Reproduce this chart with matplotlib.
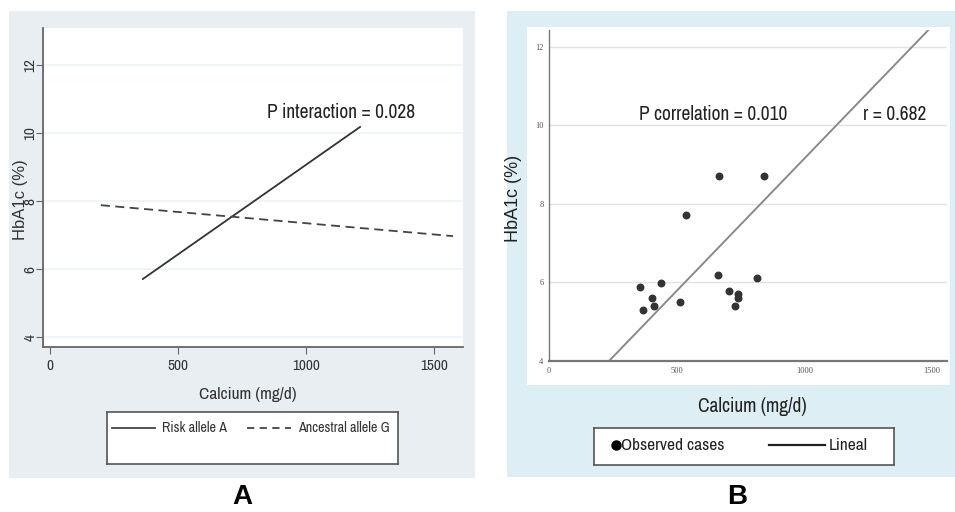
import numpy as np
import matplotlib
matplotlib.use("Agg")
import matplotlib.pyplot as plt
from matplotlib.lines import Line2D

W, H = 955, 512

# Panel A: fitted lines by allele
risk_x = [363, 1211]
risk_y = [5.71, 10.18]
anc_x = [199, 1574]
anc_y = [7.88, 6.97]
ticks_a_x = [0, 500, 1000, 1500]
ticks_a_y = [4, 6, 8, 10, 12]

# Panel B: observed cases and linear fit
obs_x = [666, 841, 538, 356, 369, 403, 411, 440, 514, 662, 706, 728, 740, 739, 814]
obs_y = [8.72, 8.72, 7.71, 5.89, 5.29, 5.60, 5.39, 5.99, 5.49, 6.19, 5.79, 5.39, 5.70, 5.60, 6.11]
fit_x = [235, 1488]
fit_y = [4.0, 12.45]
ticks_b_x = [0, 500, 1000, 1500]
ticks_b_y = [4, 6, 8, 10, 12]

NARROW = ["Archivo Narrow", "Liberation Sans", "DejaVu Sans"]
ARIAL = ["Liberation Sans", "DejaVu Sans"]
SERIF = ["Liberation Serif", "DejaVu Serif"]


def rect(x0, y0, x1, y1):
    return [x0 / W, 1 - y1 / H, (x1 - x0) / W, (y1 - y0) / H]


def fx(px):
    return px / W


def fy(py):
    return 1 - py / H


def blank(fig, r, color, zorder=0):
    a = fig.add_axes(r, zorder=zorder)
    a.set_facecolor(color)
    a.set_xticks([])
    a.set_yticks([])
    for s in a.spines.values():
        s.set_visible(False)
    return a


fig = plt.figure(figsize=(W / 100, H / 100), dpi=100)
fig.patch.set_facecolor("white")

# ---------- panel A ----------
blank(fig, rect(9, 11, 475, 478), "#e9eef2")
ax = fig.add_axes(rect(43, 28, 463, 347), zorder=2)
ax.set_facecolor("white")
ax.set_xlim(-27, 1613)
ax.set_ylim(3.71, 13.09)
for y in ticks_a_y:
    ax.axhline(y, color="#eef2f5", lw=1.2, zorder=0)
ax.plot(risk_x, risk_y, color="#333333", lw=1.3)
ax.plot(anc_x, anc_y, color="#444444", lw=1.3, dashes=(5, 3))
ax.text(848, 10.6, "P interaction = 0.028", family=NARROW, fontsize=14,
        va="center", color="#222222")
ax.spines["top"].set_visible(False)
ax.spines["right"].set_visible(False)
for s in ("left", "bottom"):
    ax.spines[s].set_color("#666666")
    ax.spines[s].set_linewidth(1.3)
ax.set_xticks(ticks_a_x)
ax.set_yticks(ticks_a_y)
ax.tick_params(axis="both", direction="out", length=5, color="#666666",
               labelsize=11, labelcolor="#333333")
ax.tick_params(axis="y", pad=-1)
ax.tick_params(axis="x", pad=4)
ax.set_yticklabels([str(t) for t in ticks_a_y], rotation=90, va="center",
                   family=NARROW)
ax.set_xticklabels([str(t) for t in ticks_a_x], family=NARROW)
fig.text(fx(20), fy(200), "HbA1c (%)", rotation=90, ha="center", va="center",
         family=ARIAL, fontsize=12, color="#333333")
fig.text(fx(248), fy(395), "Calcium (mg/d)", ha="center", va="center",
         family=NARROW, fontsize=12.5, color="#333333")

lga = fig.add_axes(rect(107, 412, 398, 464), zorder=2)
lga.set_xlim(107, 398)
lga.set_ylim(464, 412)
lga.set_xticks([])
lga.set_yticks([])
lga.set_facecolor("white")
for s in lga.spines.values():
    s.set_color("#555555")
    s.set_linewidth(1.2)
lga.add_line(Line2D([112, 155], [428, 428], color="#444444", lw=1.3))
lga.text(162, 428, "Risk allele A", family=NARROW, fontsize=10.2,
         va="center", color="#333333")
lga.add_line(Line2D([247, 291], [428, 428], color="#444444", lw=1.3,
                    dashes=(4, 3)))
lga.text(298, 428, "Ancestral allele G", family=NARROW, fontsize=10.2,
         va="center", color="#333333")

fig.text(fx(242), fy(497), "A", ha="center", va="center", family=ARIAL,
         fontsize=20, fontweight="bold", color="black")

# ---------- panel B ----------
blank(fig, rect(507, 11, 955, 477), "#ddeff4")
blank(fig, rect(527, 27, 950, 385), "white", zorder=1)
bx = fig.add_axes(rect(549, 30, 947, 361), zorder=2)
bx.patch.set_alpha(0)
bx.set_xlim(0, 1558)
bx.set_ylim(4, 12.43)
for y in ticks_b_y[1:]:
    bx.axhline(y, color="#e3e3e3", lw=1.0, zorder=0)
bx.plot(fit_x, fit_y, color="#8a8a8a", lw=1.4, zorder=2)
bx.scatter(obs_x, obs_y, s=22, color="#333333", zorder=3)
bx.text(352, 10.27, "P correlation = 0.010", family=NARROW, fontsize=14,
        va="center", color="#222222")
bx.text(1229, 10.27, "r = 0.682", family=NARROW, fontsize=14,
        va="center", color="#222222")
bx.spines["top"].set_visible(False)
bx.spines["right"].set_visible(False)
bx.spines["left"].set_color("#777777")
bx.spines["left"].set_linewidth(1.0)
bx.spines["bottom"].set_color("#777777")
bx.spines["bottom"].set_linewidth(1.6)
bx.set_xticks(ticks_b_x)
bx.set_yticks(ticks_b_y)
bx.tick_params(axis="both", length=0, pad=4, labelsize=6,
               labelcolor="#555555")
for lab in bx.get_xticklabels() + bx.get_yticklabels():
    lab.set_family(SERIF)
fig.text(fx(513), fy(198), "HbA1c (%)", rotation=90, ha="center",
         va="center", family=ARIAL, fontsize=13, color="#222222")
fig.text(fx(752), fy(407), "Calcium (mg/d)", ha="center", va="center",
         family=NARROW, fontsize=14, color="#222222")

lgb = fig.add_axes(rect(594, 428, 894, 465), zorder=2)
lgb.set_xlim(594, 894)
lgb.set_ylim(465, 428)
lgb.set_xticks([])
lgb.set_yticks([])
lgb.set_facecolor("white")
for s in lgb.spines.values():
    s.set_color("#555555")
    s.set_linewidth(1.2)
lgb.plot([616], [445], "o", color="black", markersize=6.5)
lgb.text(621, 445, "Observed cases", family=NARROW, fontsize=12.5,
         va="center", color="#222222")
lgb.add_line(Line2D([769, 825], [445, 445], color="#222222", lw=1.6))
lgb.text(829, 445, "Lineal", family=NARROW, fontsize=12.5, va="center",
         color="#222222")

fig.text(fx(737), fy(497), "B", ha="center", va="center", family=ARIAL,
         fontsize=20, fontweight="bold", color="black")

fig.savefig("out.png", dpi=100)
